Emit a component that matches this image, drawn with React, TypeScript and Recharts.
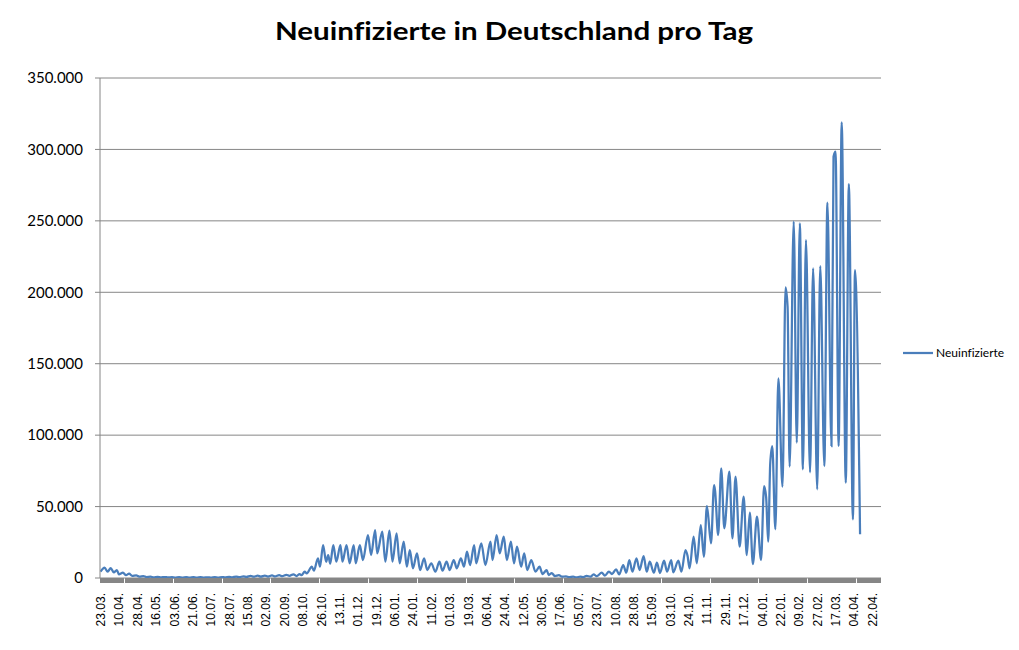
import React from 'react';
import { LineChart, Line, XAxis, YAxis, CartesianGrid } from 'recharts';

const TITLE = 'Neuinfizierte in Deutschland pro Tag';
const SERIES_NAME = 'Neuinfizierte';

// category labels, one every 18 days starting 23.03.2020
const TICK_LABELS = [
  '23.03.', '10.04.', '28.04.', '16.05.', '03.06.', '21.06.', '10.07.', '28.07.', '15.08.', '02.09.',
  '20.09.', '08.10.', '26.10.', '13.11.', '01.12.', '19.12.', '06.01.', '24.01.', '11.02.', '01.03.',
  '19.03.', '06.04.', '24.04.', '12.05.', '30.05.', '17.06.', '05.07.', '23.07.', '10.08.', '28.08.',
  '15.09.', '03.10.', '24.10.', '11.11.', '29.11.', '17.12.', '04.01.', '22.01.', '09.02.', '27.02.',
  '17.03.', '04.04.', '22.04.',
];
const LABEL_STEP = 18;
const CATEGORY_COUNT = 765;

const Y_TICKS = [0, 50000, 100000, 150000, 200000, 250000, 300000, 350000];

// [day index since 23.03.2020, new infections] – weekly highs and lows
const DAILY_CASES: [number, number][] = [
  [0, 4400], [4, 7200], [7, 4400], [10, 7000], [13, 4000], [16, 5600], [18, 2600], [22, 3700], [25, 2000], [28, 3000],
  [31, 1500], [35, 1900], [38, 1000], [42, 1300], [45, 700], [49, 900], [52, 500], [56, 800], [59, 400], [63, 700],
  [66, 400], [70, 600], [73, 350], [77, 600], [80, 350], [84, 700], [87, 350], [91, 600], [94, 300], [98, 550],
  [101, 350], [105, 500], [108, 300], [112, 600], [115, 350], [119, 700], [122, 400], [126, 800], [129, 500], [133, 1000],
  [136, 600], [140, 1200], [143, 800], [147, 1500], [150, 900], [154, 1600], [157, 1000], [161, 1700], [164, 1000], [168, 1800],
  [171, 1100], [175, 2000], [178, 1300], [182, 2200], [185, 1500], [189, 2600], [192, 1400], [195, 2800], [197, 2000], [200, 4400],
  [202, 3300], [207, 7900], [209, 5100], [213, 13800], [215, 7900], [218, 23100], [221, 11400], [223, 16000], [225, 10000], [228, 23100],
  [231, 11400], [235, 23100], [237, 11400], [241, 23100], [244, 10300], [248, 23100], [250, 10300], [254, 23100], [257, 12600], [262, 30100],
  [265, 16100], [269, 33600], [271, 17300], [276, 32400], [279, 11400], [283, 33100], [286, 11400], [290, 31300], [293, 10300], [297, 25400],
  [300, 7900], [303, 19600], [306, 6800], [310, 17300], [313, 5600], [317, 13800], [320, 5600], [324, 10300], [328, 4400], [332, 11400],
  [335, 5100], [339, 11400], [342, 5600], [346, 12600], [349, 6800], [353, 13800], [356, 7900], [359, 18400], [362, 9100], [366, 23100],
  [368, 10300], [373, 24300], [377, 9100], [382, 25400], [384, 12600], [388, 30100], [391, 17300], [395, 28900], [398, 12600], [402, 25400],
  [405, 10300], [408, 21900], [412, 7900], [415, 17300], [418, 5600], [422, 12600], [426, 4400], [430, 7900], [433, 2800], [437, 5600],
  [439, 2100], [442, 3500], [445, 1400], [449, 2000], [452, 900], [456, 1200], [459, 600], [463, 900], [466, 500], [470, 900],
  [473, 600], [476, 1500], [480, 900], [483, 2600], [486, 1300], [491, 3700], [494, 1600], [498, 4400], [501, 2800], [505, 6100],
  [508, 2500], [512, 9100], [515, 3700], [518, 12600], [521, 4400], [525, 13800], [528, 5600], [532, 15400], [535, 4400], [538, 11400],
  [542, 3700], [545, 10700], [548, 3500], [552, 12100], [555, 4400], [559, 12600], [561, 4000], [566, 12100], [569, 4400], [573, 19600],
  [575, 15500], [577, 6800], [581, 28900], [584, 10300], [588, 37100], [591, 14900], [594, 50400], [598, 24300], [601, 65100], [602, 61000],
  [605, 30100], [608, 76800], [611, 34800], [616, 74400], [619, 27800], [622, 70900], [626, 21900], [630, 56900], [633, 16100], [636, 45700],
  [639, 9800], [643, 42900], [647, 12600], [650, 64400], [652, 56500], [654, 25400], [656, 80300], [658, 92400], [661, 34100], [664, 139800],
  [668, 63900], [671, 203500], [673, 190000], [675, 77900], [679, 249400], [682, 94700], [685, 248300], [688, 76100], [691, 236600], [695, 74000],
  [698, 216800], [702, 62100], [705, 218400], [709, 78400], [712, 262700], [716, 92400], [718, 294900], [720, 298400], [723, 92400], [726, 319000],
  [730, 66700], [733, 275800], [737, 41100], [739, 215600], [744, 30600],
];

const data = DAILY_CASES.map(([day, value]) => ({ day, value }));
const categoryTicks = Array.from({ length: CATEGORY_COUNT }, (_, i) => i);

const W = 1019;
const H = 650;
const PLOT_LEFT = 100;
const PLOT_TOP = 78;
const PLOT_RIGHT = 881;
const PLOT_BOTTOM = 578;
const GRAY = '#868686';
const BLUE = '#4A7EBB';

const fmt = (v: number) => String(v).replace(/\B(?=(\d{3})+(?!\d))/g, '.');

const XTick = (props: any) => {
  const { x, payload } = props;
  const v = payload.value as number;
  const idx = v / LABEL_STEP;
  const showLabel = v % LABEL_STEP === 0 && idx < TICK_LABELS.length;
  const tx = x + 4.5;
  const ty = PLOT_BOTTOM + 15;
  return (
    <g>
      <line x1={x} x2={x} y1={PLOT_BOTTOM} y2={PLOT_BOTTOM + 5} stroke={GRAY} strokeWidth={1} shapeRendering="crispEdges" />
      {showLabel && (
        <text
          x={tx}
          y={ty}
          transform={`rotate(-90 ${tx} ${ty})`}
          textAnchor="end"
          fontSize={12}
          fontFamily="'Liberation Sans', Arial, sans-serif"
          fill="#000"
        >
          {TICK_LABELS[idx]}
        </text>
      )}
    </g>
  );
};

const noLig = { fontVariantLigatures: 'none' as const, fontFeatureSettings: '"liga" 0' };

export default function App() {
  return (
    <div style={{ position: 'absolute', left: 0, top: 0, width: W, height: H, background: '#fff' }}>
      <LineChart
        width={W}
        height={H}
        data={data}
        margin={{ top: PLOT_TOP, right: W - PLOT_RIGHT, bottom: 12, left: 0 }}
      >
        <CartesianGrid vertical={false} stroke={GRAY} strokeWidth={1} />
        <XAxis
          type="number"
          dataKey="day"
          domain={[-0.5, CATEGORY_COUNT - 0.5]}
          ticks={categoryTicks}
          interval={0}
          height={H - PLOT_BOTTOM - 12}
          tickLine={false}
          axisLine={false}
          tick={<XTick />}
          allowDataOverflow
        />
        <YAxis
          type="number"
          domain={[0, 350000]}
          ticks={Y_TICKS}
          width={PLOT_LEFT}
          tickFormatter={fmt}
          tickSize={5}
          tickMargin={12}
          axisLine={{ stroke: GRAY }}
          tickLine={{ stroke: GRAY }}
          tick={{ fill: '#000', fontSize: 15, fontFamily: 'Lato, sans-serif' }}
          interval={0}
        />
        <Line
          type="monotone"
          dataKey="value"
          name={SERIES_NAME}
          stroke={BLUE}
          strokeWidth={2.25}
          dot={false}
          isAnimationActive={false}
        />
      </LineChart>
      <svg width={W} height={H} style={{ position: 'absolute', left: 0, top: 0, pointerEvents: 'none' }}>
        <text
          x={514}
          y={40}
          textAnchor="middle"
          fontFamily="Lato, sans-serif"
          fontWeight="bold"
          fontSize={24}
          textLength={478}
          lengthAdjust="spacingAndGlyphs"
          fill="#000"
          style={noLig}
        >
          {TITLE}
        </text>
        <line x1={903} x2={933} y1={353} y2={353} stroke={BLUE} strokeWidth={2.25} />
        <text x={936} y={357} fontFamily="Lato, sans-serif" fontSize={12} fill="#000" style={noLig}>
          {SERIES_NAME}
        </text>
      </svg>
    </div>
  );
}
